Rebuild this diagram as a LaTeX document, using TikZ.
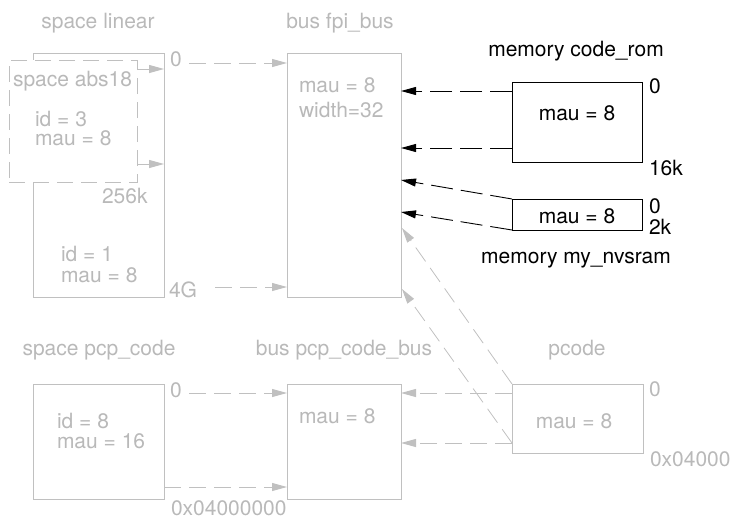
\documentclass[tikz,border=0pt]{standalone}
\usepackage{fontspec}
\setmainfont{TeX Gyre Heros}
\usetikzlibrary{arrows.meta}
\definecolor{lg}{RGB}{192,192,192}
\definecolor{lgt}{RGB}{185,185,185}
\begin{document}
\begin{tikzpicture}[x=1pt,y=-1pt,
  every node/.style={font=\fontsize{21}{19}\selectfont, inner sep=0pt, outer sep=0pt},
  gbox/.style={draw=lg, line width=1pt, rectangle, fill=white},
  bbox/.style={draw=black, line width=0.9pt, rectangle, fill=white},
  gtxt/.style={text=lgt},
  btxt/.style={text=black},
  garrow/.style={draw=lg, line width=1pt, -{Triangle[length=15pt,width=8pt]}},
  gdash/.style={garrow, dash pattern=on 17pt off 8pt},
  bdash/.style={draw=black, line width=0.9pt, dash pattern=on 22pt off 8pt, -{Triangle[length=15pt,width=8pt]}}
]
\useasboundingbox (0,0) rectangle (734,520);

% boxes
\node[gbox, minimum width=131pt, minimum height=244pt] (linear) at (98.5,175) {};
\node[gbox, dash pattern=on 16pt off 8pt, minimum width=128pt, minimum height=122pt] (abs) at (73,121) {};
\node[gbox, minimum width=114pt, minimum height=244pt] (fpi) at (344,175) {};
\node[bbox, minimum width=130pt, minimum height=80pt] (rom) at (577,122) {};
\node[bbox, minimum width=130pt, minimum height=31pt] (nv) at (577,214.5) {};
\node[gbox, minimum width=131pt, minimum height=115pt] (pcp) at (98.5,441.5) {};
\node[gbox, minimum width=114pt, minimum height=115pt] (pcpbus) at (344,441.5) {};
\node[gbox, minimum width=131pt, minimum height=69pt] (pcode) at (577.5,418.5) {};

% grey labels
\node[gtxt, anchor=base] (splin) at (98,28) {space linear};
\node[gtxt, anchor=base] (fpilab) at (340,28) {bus fpi\_bus};
\node[gtxt, anchor=base west] (zeroa) at (170,66) {0};
\node[gtxt, anchor=base west] (abslab) at (13,86) {space abs18};
\node[gtxt, anchor=base west] (idthree) at (35,126) {id = 3};
\node[gtxt, anchor=base west] (mauthree) at (35,145) {mau = 8};
\node[gtxt, anchor=base west] (kbig) at (102,203) {256k};
\node[gtxt, anchor=base west] (idone) at (61,261) {id = 1};
\node[gtxt, anchor=base west] (mauone) at (61,282) {mau = 8};
\node[gtxt, anchor=base west] (fourg) at (169,297) {4G};
\node[gtxt, anchor=base west] (fpimau) at (299,92) {mau = 8};
\node[gtxt, anchor=base west] (fpiw) at (299,117) {width=32};
\node[gtxt, anchor=base] (pcplab) at (99,355) {space pcp\_code};
\node[gtxt, anchor=base] (pcpbuslab) at (344,355) {bus pcp\_code\_bus};
\node[gtxt, anchor=base] (pcodelab) at (577,355) {pcode};
\node[gtxt, anchor=base west] (zeroc) at (170,397) {0};
\node[gtxt, anchor=base west] (ideight) at (57,428) {id = 8};
\node[gtxt, anchor=base west] (mausix) at (57,448) {mau = 16};
\node[gtxt, anchor=base west] (pcpbusmau) at (299,423) {mau = 8};
\node[gtxt, anchor=base] (pcodemau) at (574,428) {mau = 8};
\node[gtxt, anchor=base west] (zerod) at (649,396) {0};
\node[gtxt, anchor=base west] (hexa) at (650,466) {0x04000};
\node[gtxt, anchor=base west] (hexb) at (171,515) {0x04000000};

% black labels
\node[btxt, anchor=base] (romlab) at (576,56) {memory code\_rom};
\node[btxt, anchor=base west] (zerob) at (649,93) {0};
\node[btxt, anchor=base] (rommau) at (577,120) {mau = 8};
\node[btxt, anchor=base west] (ksixteen) at (649,175) {16k};
\node[btxt, anchor=base west] (zeroe) at (649,213) {0};
\node[btxt, anchor=base west] (ktwo) at (649,234) {2k};
\node[btxt, anchor=base] (nvmau) at (577,223) {mau = 8};
\node[btxt, anchor=base] (nvlab) at (576,263) {memory my\_nvsram};

% free ends
\coordinate (sa) at (189,63);
\coordinate (sb) at (215,287);
\coordinate (sc) at (189,393);

% grey connectors
\draw[garrow] (abs.east |- 0,69) -- (linear.east |- 0,69);
\draw[garrow] (abs.east |- 0,164) -- (linear.east |- 0,164);
\draw[gdash] (sa) -- (fpi.west |- sa);
\draw[gdash] (sb) -- (fpi.west |- sb);
\draw[gdash] (sc) -- (pcpbus.west |- sc);
\draw[gdash] (pcp.east |- 0,487) -- (pcpbus.west |- 0,487);
\draw[gdash] (pcode.west |- 0,393) -- (pcpbus.east |- 0,393);
\draw[gdash] (pcode.west |- 0,443) -- (pcpbus.east |- 0,443);
\draw[gdash, line width=0.8pt] (pcode.north west) -- ([xshift=1pt]fpi.east |- 0,228);
\draw[gdash, line width=0.8pt] (pcode.west |- 0,443) -- ([xshift=1pt]fpi.east |- 0,289);

% black connectors
\draw[bdash] (rom.west |- 0,91) -- (fpi.east |- 0,91);
\draw[bdash] (rom.west |- 0,148) -- (fpi.east |- 0,148);
\draw[bdash] (nv.north west) -- (fpi.east |- 0,180);
\draw[bdash] (nv.south west) -- (fpi.east |- 0,212);
\end{tikzpicture}
\end{document}
